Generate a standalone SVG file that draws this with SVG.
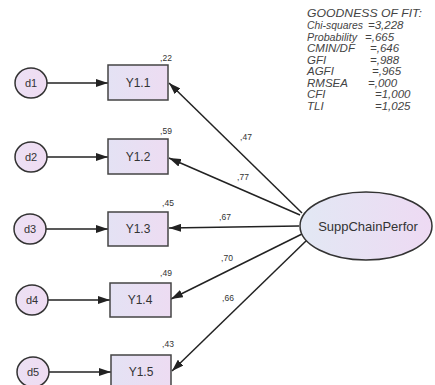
<svg xmlns="http://www.w3.org/2000/svg" width="435" height="385" viewBox="0 0 435 385">
<defs>
<linearGradient id="gbox" x1="0" y1="0" x2="1" y2="0"><stop offset="0" stop-color="#e4e2f4"/><stop offset="1" stop-color="#eddcf2"/></linearGradient>
<linearGradient id="gell" x1="0" y1="0" x2="1" y2="0"><stop offset="0" stop-color="#e2e8f4"/><stop offset="1" stop-color="#eedaf3"/></linearGradient>
<linearGradient id="gcir" x1="0" y1="0" x2="1" y2="0"><stop offset="0" stop-color="#ece0f4"/><stop offset="1" stop-color="#efdcf2"/></linearGradient>
<marker id="ah" viewBox="0 0 12 8" refX="12" refY="4" markerWidth="12" markerHeight="8" markerUnits="userSpaceOnUse" orient="auto"><path d="M0,0 L12,4 L0,8 Z" fill="#222"/></marker>
<style>
.box{fill:url(#gbox);stroke:#444;stroke-width:1.5}
.cir{fill:url(#gcir);stroke:#333;stroke-width:1.5}
.ell{fill:url(#gell);stroke:#333;stroke-width:1.5}
.lbl{font-family:"Liberation Sans",Arial,sans-serif;font-size:12px;fill:#333;text-anchor:middle}
.dl{font-family:"Liberation Sans",Arial,sans-serif;font-size:11px;fill:#333;text-anchor:middle}
.sm{font-family:"Liberation Sans",Arial,sans-serif;font-size:8.5px;fill:#333;text-anchor:middle}
.gof{font-family:"Liberation Sans",Arial,sans-serif;font-size:11.5px;font-style:italic;fill:#444}
.c{stroke:#222;stroke-width:1.5;fill:none;marker-end:url(#ah)}
</style>
</defs>
<rect width="435" height="385" fill="#fff"/>
<g id="connectors">
<line class="c" x1="47" y1="83" x2="108" y2="83"/>
<line class="c" x1="47" y1="157" x2="108" y2="157"/>
<line class="c" x1="46" y1="229" x2="108" y2="229"/>
<line class="c" x1="48" y1="300" x2="110" y2="300"/>
<line class="c" x1="49" y1="372" x2="111" y2="372"/>
<line class="c" x1="302" y1="213" x2="169" y2="83"/>
<line class="c" x1="300" y1="215" x2="169" y2="158"/>
<line class="c" x1="299" y1="226" x2="169" y2="228"/>
<line class="c" x1="302" y1="234" x2="171" y2="299"/>
<line class="c" x1="307" y1="240" x2="172" y2="371"/>
<text class="sm" x="246" y="140">,47</text>
<text class="sm" x="243" y="180">,77</text>
<text class="sm" x="225" y="220">,67</text>
<text class="sm" x="227" y="261">,70</text>
<text class="sm" x="228" y="301">,66</text>
</g>
<g id="d1"><ellipse class="cir" cx="31" cy="83" rx="16" ry="15"/><text class="dl" x="31" y="87">d1</text></g>
<g id="d2"><ellipse class="cir" cx="31" cy="157" rx="16" ry="15"/><text class="dl" x="31" y="161">d2</text></g>
<g id="d3"><ellipse class="cir" cx="30" cy="229" rx="16" ry="15"/><text class="dl" x="30" y="233">d3</text></g>
<g id="d4"><ellipse class="cir" cx="32" cy="300" rx="16" ry="15"/><text class="dl" x="32" y="304">d4</text></g>
<g id="d5"><ellipse class="cir" cx="33" cy="372" rx="16" ry="15"/><text class="dl" x="33" y="376">d5</text></g>
<g id="Y1.1"><rect class="box" x="108" y="65" width="60" height="35"/><text class="lbl" x="138" y="87">Y1.1</text><text class="sm" x="166" y="61">,22</text></g>
<g id="Y1.2"><rect class="box" x="108" y="139" width="60" height="35"/><text class="lbl" x="138" y="161">Y1.2</text><text class="sm" x="166" y="134">,59</text></g>
<g id="Y1.3"><rect class="box" x="108" y="212" width="60" height="34"/><text class="lbl" x="138" y="233">Y1.3</text><text class="sm" x="168" y="206">,45</text></g>
<g id="Y1.4"><rect class="box" x="110" y="283" width="61" height="34"/><text class="lbl" x="140" y="304">Y1.4</text><text class="sm" x="166" y="276">,49</text></g>
<g id="Y1.5"><rect class="box" x="111" y="355" width="60" height="33"/><text class="lbl" x="141" y="376">Y1.5</text><text class="sm" x="168" y="347">,43</text></g>
<g id="SuppChainPerfor"><ellipse class="ell" cx="366" cy="226" rx="66" ry="34"/><text class="lbl" style="font-size:13px" x="368" y="231">SuppChainPerfor</text></g>
<g id="gof">
<text class="gof" x="307" y="17" textLength="115" lengthAdjust="spacingAndGlyphs">GOODNESS OF FIT:</text>
<text class="gof" x="307" y="29" textLength="56" lengthAdjust="spacingAndGlyphs">Chi-squares</text><text class="gof" x="368" y="29">=3,228</text>
<text class="gof" x="307" y="41" textLength="50" lengthAdjust="spacingAndGlyphs">Probability</text><text class="gof" x="365" y="41">=,665</text>
<text class="gof" x="307" y="52">CMIN/DF</text><text class="gof" x="370" y="52">=,646</text>
<text class="gof" x="307" y="64">GFI</text><text class="gof" x="370" y="64">=,988</text>
<text class="gof" x="307" y="75">AGFI</text><text class="gof" x="372" y="75">=,965</text>
<text class="gof" x="307" y="87">RMSEA</text><text class="gof" x="368" y="87">=,000</text>
<text class="gof" x="307" y="98">CFI</text><text class="gof" x="375" y="98">=1,000</text>
<text class="gof" x="307" y="110">TLI</text><text class="gof" x="375" y="110">=1,025</text>
</g>
</svg>
